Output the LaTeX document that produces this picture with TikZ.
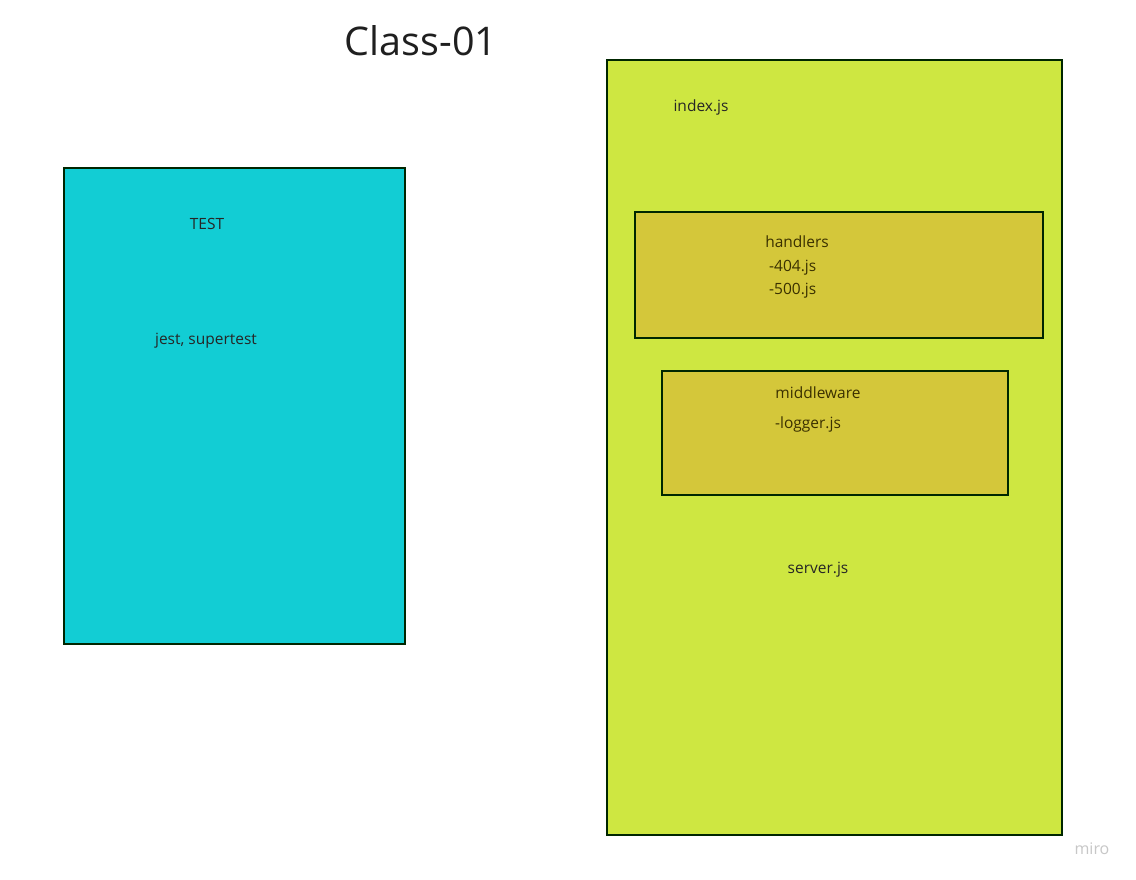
\documentclass[tikz,border=0pt]{standalone}
\usepackage{fontspec}
\setmainfont{Open Sans}
\begin{document}
\begin{tikzpicture}[x=1pt,y=-1pt,
  boxstyle/.style={draw=black!85!green, line width=2pt},
  lbl/.style={font=\fontsize{15.5}{18}\selectfont, text=black!85, inner sep=0pt},
  innerlbl/.style={font=\fontsize{15.5}{18}\selectfont, text=innertext, inner sep=0pt}]
\definecolor{cyanbox}{HTML}{12CDD4}
\definecolor{greenbox}{HTML}{CEE741}
\definecolor{olivebox}{HTML}{D4C73A}
\definecolor{innertext}{HTML}{3A3000}
\useasboundingbox (0,0) rectangle (1136,879);
\fill[white] (0,0) rectangle (1136,879);
\node[inner sep=0pt, font=\fontsize{39.5}{48}\selectfont, text=black!88] (title) at (421,41) {Class-01};
\draw[boxstyle, fill=cyanbox] (64,168) rectangle (405,644);
\node[lbl] (test) at (207,224) {TEST};
\node[lbl] (jest) at (206,341) {jest, supertest};
\draw[boxstyle, fill=greenbox] (607,60) rectangle (1062,835);
\node[lbl] (index) at (701,107) {index.js};
\draw[boxstyle, fill=olivebox] (635,212) rectangle (1043,338);
\node[innerlbl] (handlers) at (797,242) {handlers};
\node[innerlbl, anchor=west] (f404) at (769,268) {-404.js};
\node[innerlbl, anchor=west] (f500) at (769,291) {-500.js};
\draw[boxstyle, fill=olivebox] (662,371) rectangle (1008,495);
\node[innerlbl] (middleware) at (818,393) {middleware};
\node[innerlbl, anchor=west] (logger) at (775,424) {-logger.js};
\node[lbl] (server) at (818,570) {server.js};
\node[inner sep=0pt, font=\fontsize{16}{18}\selectfont, text=black!22] (miro) at (1092,849) {miro};
\end{tikzpicture}
\end{document}
